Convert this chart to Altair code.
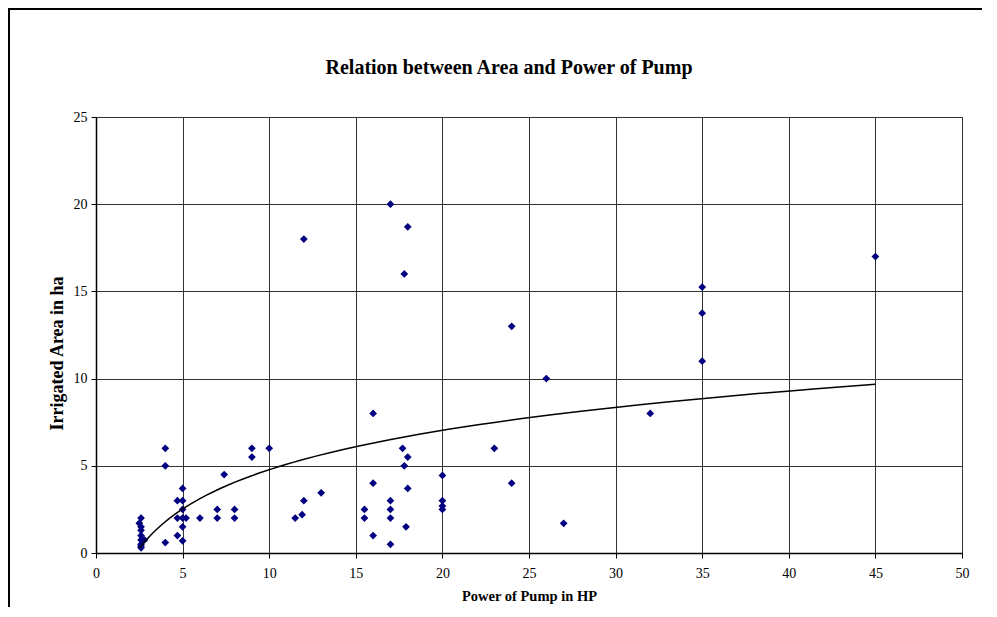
import altair as alt
import pandas as pd

# Power of pump (HP) and irrigated area (ha)
power_hp = [2.6, 2.5, 2.6, 2.6, 2.6, 2.6, 2.8, 2.6, 2.6, 2.6,
            4, 4, 4,
            4.7, 5, 4.7, 5, 5.2, 5, 5, 5, 4.7, 5,
            6, 7, 7, 7.4, 8, 8, 9, 9, 10,
            11.5, 11.9, 12, 12, 13,
            15.5, 15.5, 16, 16, 16,
            17, 17, 17, 17, 17,
            17.7, 17.8, 17.8, 17.9, 18, 18, 18,
            20, 20, 20, 20,
            23, 24, 24, 26, 27, 32, 35, 35, 35, 45]
area_ha = [2.0, 1.7, 1.5, 1.3, 1.0, 0.75, 0.75, 0.5, 0.4, 0.3,
           6, 5, 0.6,
           3, 3, 2, 2, 2, 2.5, 3.7, 1.5, 1, 0.7,
           2, 2.5, 2, 4.5, 2.5, 2, 6, 5.5, 6,
           2, 2.2, 3, 18, 3.45,
           2.5, 2, 8, 4, 1,
           20, 3, 2.5, 2, 0.5,
           6, 5, 16, 1.5, 18.7, 5.5, 3.7,
           4.45, 3, 2.7, 2.5,
           6, 13, 4, 10, 1.7, 8, 15.25, 13.75, 11, 17]

x_ticks = [0, 5, 10, 15, 20, 25, 30, 35, 40, 45, 50]
y_ticks = [0, 5, 10, 15, 20, 25]
chart_title = ["Relation between Area and Power of Pump"]

df = pd.DataFrame({"power": power_hp, "area": area_ha})
title_df = pd.DataFrame({"t": chart_title})

FONT = "Liberation Serif"

x_enc = alt.X("power:Q", scale=alt.Scale(domain=[0, 50], nice=False, zero=True),
              axis=alt.Axis(values=x_ticks, title="Power of Pump in HP", format="d",
                            tickSize=5, labelPadding=8, titlePadding=9,
                            titleFontSize=14.5))
y_enc = alt.Y("area:Q", scale=alt.Scale(domain=[0, 25], nice=False),
              axis=alt.Axis(values=y_ticks, title="Irrigated Area in ha", format="d",
                            tickSize=5, labelPadding=4,
                            titleX=-39, titleY=236, titleAngle=270,
                            titleAlign="center", titleBaseline="middle",
                            titleFontSize=18))

base = alt.Chart(df)

frame = base.mark_rect(fill=None, stroke="black", strokeWidth=2).encode(
    x=alt.value(9 - 96), x2=alt.value(1100),
    y=alt.value(9 - 117), y2=alt.value(800)
)

title_text = alt.Chart(title_df).mark_text(
    font=FONT, fontSize=20, fontWeight="bold", color="black",
    align="center", baseline="middle"
).encode(x=alt.value(509 - 96), y=alt.value(68 - 117), text="t:N")

points = base.mark_point(shape="diamond", filled=True, color="#000080",
                         size=60, opacity=1).encode(x=x_enc, y=y_enc)

trend = base.transform_regression("power", "area", method="log").mark_line(
    color="black", strokeWidth=1.5).encode(x=x_enc, y=y_enc)

chart = alt.layer(frame, title_text, points, trend).properties(
    width=866, height=436,
    autosize=alt.AutoSizeParams(type="none"),
    padding={"left": 88, "top": 109, "right": 20, "bottom": 54},
    background="white",
).configure_view(
    stroke="black", strokeWidth=1
).configure_axis(
    labelFont=FONT, labelFontSize=14, labelColor="black",
    titleFont=FONT, titleFontWeight="bold", titleColor="black",
    grid=True, gridColor="#333333", gridWidth=1, gridOpacity=1,
    domainColor="black", domainWidth=1.5, tickColor="black", tickWidth=1,
    labelFlush=False, labelOverlap=False
)

chart.save("out.html", embed_options={"renderer": "svg", "actions": False})
